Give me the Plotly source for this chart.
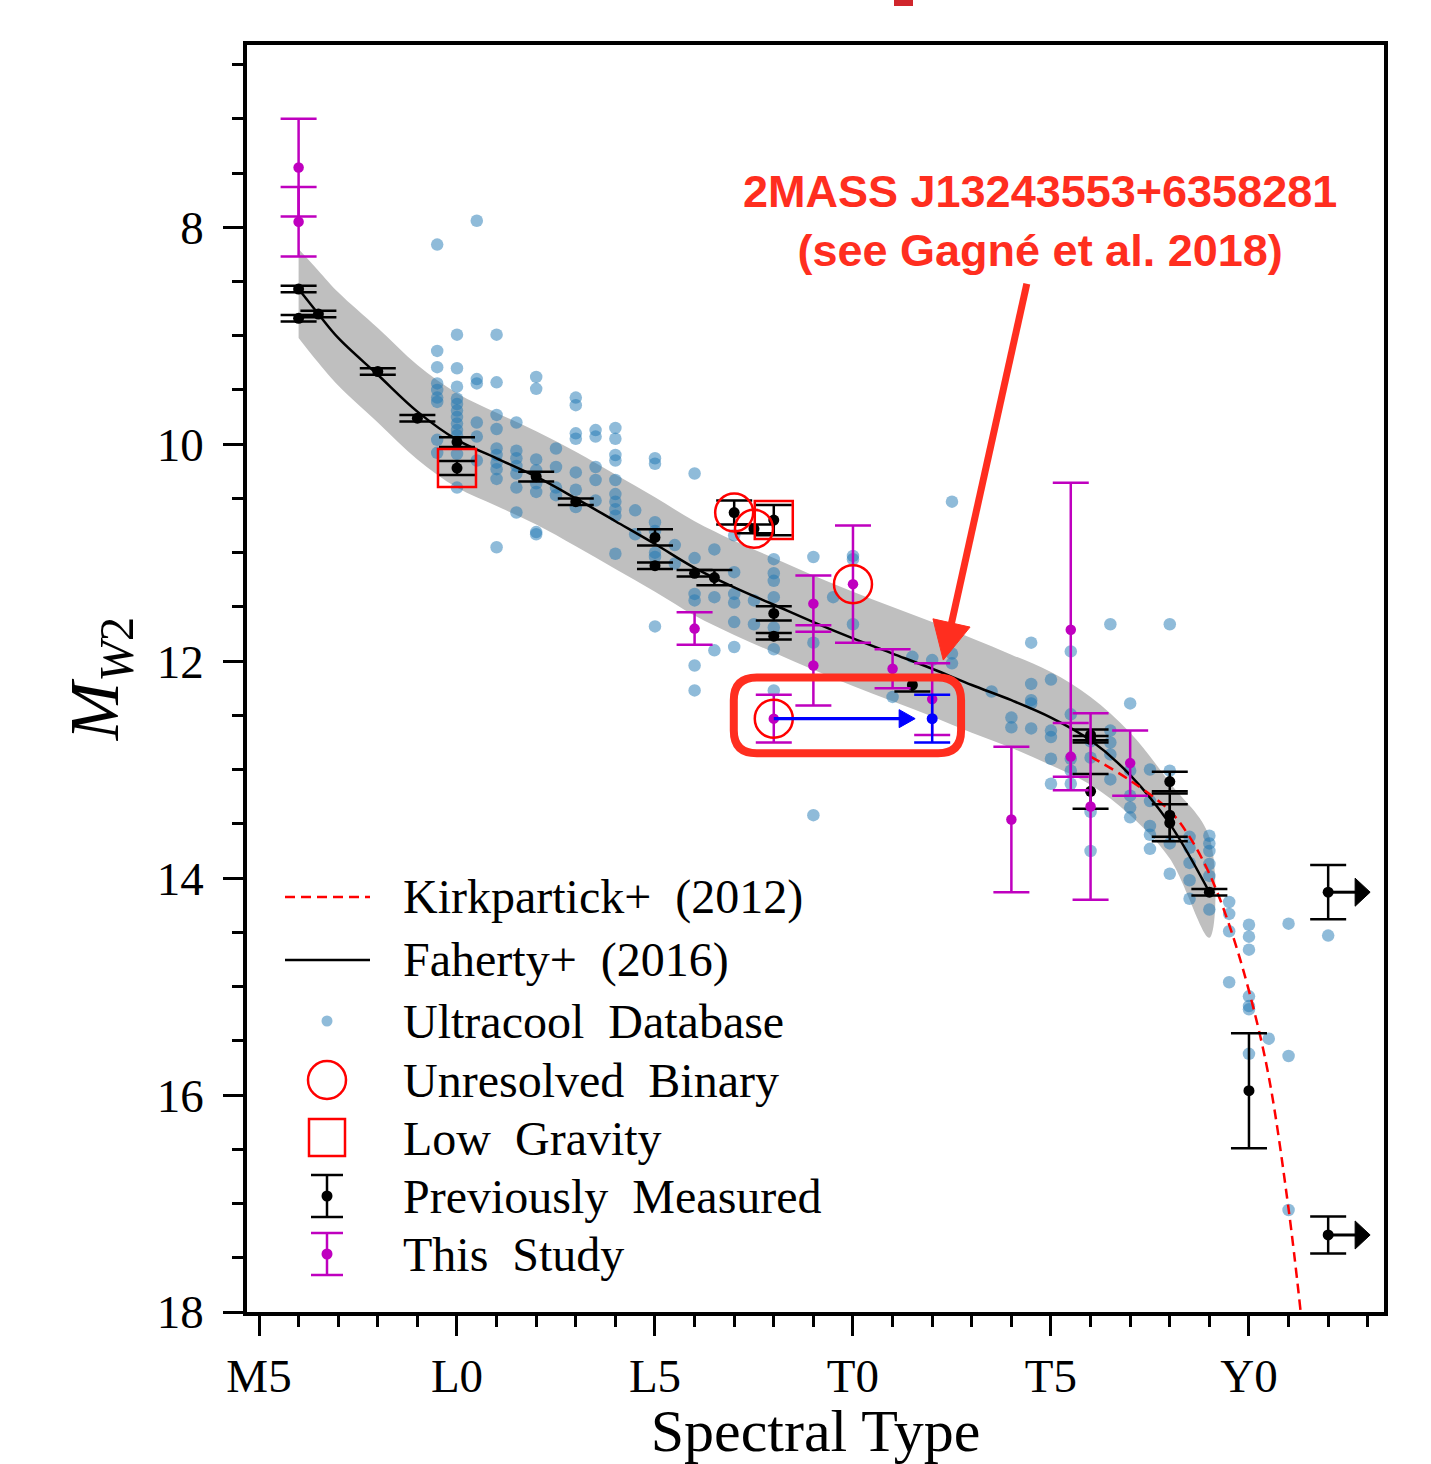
import math
import plotly.graph_objects as go

# ---------------- data ----------------
# Ultracool database (spectral type numeric: M5=5, L0=10, T0=20, Y0=30)
ucd_spt = ([9.5] * 9 + [10] * 12 + [10.5] * 6 + [11] * 10 + [11.5] * 7 + [12] * 8 +
           [12.5] * 4 + [13] * 7 + [13.5] * 5 + [14] * 10 + [14.5] * 2 + [15] * 7 +
           [15.5] * 2 + [16] * 6 + [16.5] * 3 + [17] * 6 + [17.5] * 2 + [18] * 7 +
           [19] * 3 + [19.5] * 1 + [20] * 3 + [21] * 1 + [21.5] * 1 + [22] * 1 +
           [22.5] * 3 + [23.5] * 1 + [24] * 2 + [24.5] * 5 + [25] * 5 + [25.5] * 5 +
           [26] * 4 + [26.5] * 5 + [27] * 5 + [27.5] * 5 + [28] * 4 + [28.5] * 5 +
           [29] * 6 + [29.5] * 4 + [30] * 7 + [30.5] * 1 + [31] * 3 + [32] * 1)
ucd_mw2 = [8.16, 9.14, 9.29, 9.44, 9.50, 9.57, 9.61, 9.96, 10.08,
           8.99, 9.30, 9.47, 9.58, 9.63, 9.69, 9.75, 9.81, 9.87, 9.92, 10.09, 10.40,
           7.94, 9.40, 9.44, 9.80, 9.93, 10.15,
           8.99, 9.43, 9.73, 9.86, 10.04, 10.10, 10.17, 10.23, 10.32, 10.95,
           9.80, 10.06, 10.13, 10.20, 10.27, 10.40, 10.63,
           9.38, 9.49, 10.14, 10.24, 10.36, 10.44, 10.81, 10.83,
           10.04, 10.21, 10.40, 10.47,
           9.57, 9.64, 9.90, 9.95, 10.26, 10.42, 10.58,
           9.87, 9.93, 10.21, 10.33, 10.52,
           9.85, 9.95, 10.10, 10.15, 10.33, 10.46, 10.53, 10.60, 10.66, 11.01,
           10.61, 10.83,
           10.13, 10.18, 10.72, 10.80, 11.00, 11.04, 11.68,
           10.93, 11.10,
           10.27, 11.05, 11.38, 11.44, 12.04, 12.27,
           10.97, 11.41, 11.90,
           10.84, 11.18, 11.38, 11.46, 11.64, 11.87,
           11.44, 11.66,
           11.06, 11.19, 11.26, 11.41, 11.69, 11.89, 12.27,
           11.04, 11.83, 13.42,
           11.41,
           11.03, 11.06, 11.66,
           12.33,
           11.96,
           11.99,
           10.53, 11.93, 12.02,
           12.28,
           12.52, 12.61,
           11.83, 12.21, 12.36, 12.39, 12.62,
           12.17, 12.64, 12.70, 12.90, 13.13,
           11.91, 12.49, 12.90, 13.01, 13.13,
           12.74, 12.89, 13.39, 13.75,
           11.66, 12.64, 12.75, 12.86, 13.09,
           12.39, 13.01, 13.24, 13.35, 13.44,
           13.00, 13.29, 13.52, 13.60, 13.73,
           11.66, 13.01, 13.68, 13.96,
           13.62, 13.72, 13.86, 14.02, 14.19,
           13.61, 13.68, 13.75, 13.87, 13.98, 14.29,
           14.22, 14.33, 14.49, 14.96,
           14.43, 14.54, 14.66, 15.09, 15.18, 15.21, 15.62,
           15.48,
           14.42, 15.64, 17.06,
           14.53]

# Faherty+ (2016) relation and its scatter band
fah_spt = [6, 6.5, 7, 8, 9, 10, 11, 12, 13, 14, 15, 16, 17, 18, 19, 20, 21, 22, 23,
           24, 25, 26, 27, 28, 29]
fah_mw2 = [8.57, 8.80, 9.02, 9.36, 9.70, 9.96, 10.13, 10.30, 10.50, 10.71, 10.92,
           11.14, 11.32, 11.48, 11.64, 11.79, 11.93, 12.07, 12.22, 12.36, 12.52,
           12.73, 13.05, 13.50, 14.13]
band_upper = [8.20, 8.40, 8.60, 8.93, 9.27, 9.53, 9.71, 9.88, 10.07, 10.28, 10.49,
              10.71, 10.89, 11.05, 11.21, 11.36, 11.50, 11.64, 11.79, 11.94, 12.10,
              12.33, 12.66, 13.12, 13.62]
band_lower = [9.02, 9.25, 9.46, 9.80, 10.14, 10.40, 10.57, 10.74, 10.94, 11.15,
              11.36, 11.58, 11.76, 11.92, 12.08, 12.23, 12.37, 12.51, 12.66, 12.80,
              12.96, 13.14, 13.42, 13.82, 14.55]

# Kirkpatrick+ (2012) relation
kirk_spt = [26, 27, 28, 28.5, 29, 29.5, 30, 30.5, 31, 31.3]
kirk_mw2 = [12.88, 13.10, 13.38, 13.62, 13.96, 14.43, 15.04, 15.83, 17.05, 17.98]

# Previously measured
prev_spt = [6, 6, 6.5, 8, 9, 10, 10, 12, 13, 15, 15, 16, 16.5, 17, 17.5, 18, 18, 18,
            21.5, 26, 26, 26, 28, 28, 28, 29, 30]
prev_mw2 = [8.57, 8.84, 8.80, 9.33, 9.76, 9.98, 10.22, 10.30, 10.53, 10.86, 11.12,
            11.19, 11.23, 10.63, 10.78, 10.70, 11.56, 11.77, 12.22, 12.68, 12.72,
            13.20, 13.11, 13.42, 13.49, 14.13, 15.96]
prev_err = [0.03, 0.03, 0.03, 0.03, 0.03, 0.045, 0.065, 0.045, 0.03, 0.075, 0.03,
            0.03, 0.07, 0.11, 0.04, 0.14, 0.065, 0.03, 0.06, 0.05, 0.03, 0.16, 0.09,
            0.20, 0.17, 0.03, 0.53]

# Previously measured, spectral type lower limits
lim_spt = [32, 32]
lim_mw2 = [14.13, 17.29]
lim_err = [0.25, 0.17]

# This study
this_spt = [6, 6, 16, 19, 19, 20, 21, 22, 18, 24, 25.5, 25.5, 26, 27]
this_mw2 = [7.45, 7.95, 11.70, 11.47, 12.04, 11.29, 12.07, 12.35, 12.53, 13.46,
            11.71, 12.88, 13.34, 12.94]
this_err = [0.45, 0.32, 0.15, 0.26, 0.37, 0.54, 0.18, 0.33, 0.22, 0.67, 1.355,
            0.31, 0.86, 0.30]

# Flags
bin_spt = [17, 17.5, 20, 18]
bin_mw2 = [10.63, 10.78, 11.29, 12.53]
lowg_spt = [10, 18]
lowg_mw2 = [10.22, 10.70]

# 2MASS J13243553+6358281 re-typed
hl_spt_old = 18
hl_spt_new = 22
hl_mw2 = 12.53
hl_err = 0.22

tick_vals = [5, 10, 15, 20, 25, 30]
tick_text = ["M5", "L0", "L5", "T0", "T5", "Y0"]

# ---------------- styling ----------------
W, H = 1431, 1464
PX_L, PX_R, PX_T, PX_B = 247, 1384, 45, 1312
SERIF = "Liberation Serif"
SANS = "Liberation Sans"
RED = "#ff0000"
ANN_RED = "#ff2e1f"
MAG = "#bf00bf"
UCD = "rgba(31,119,180,0.5)"

X_LO, X_HI = 4.697, 33.41
Y_BOT, Y_TOP = 18.0, 6.32
SX = (PX_R - PX_L) / (X_HI - X_LO)      # px per spectral subtype
SY = (PX_B - PX_T) / (Y_BOT - Y_TOP)    # px per magnitude (down = fainter)


def pxx(px):
    return (px - PX_L) / (PX_R - PX_L)


def pxy(py):
    return (PX_B - py) / (PX_B - PX_T)


shapes = []
annotations = []


def arrow(xs, ys, xt, yt, color, width, head_len, head_half):
    """Arrow from (xs, ys) to tip (xt, yt) in data units, head sized in px."""
    dx, dy = (xt - xs) * SX, (yt - ys) * SY
    L = math.hypot(dx, dy)
    ux, uy = dx / L, dy / L
    nx, ny = -uy, ux
    bx, by = xt - ux * head_len / SX, yt - uy * head_len / SY
    shapes.append(dict(type="line", xref="x", yref="y", x0=xs, y0=ys,
                       x1=xt - ux * (head_len - 2) / SX, y1=yt - uy * (head_len - 2) / SY,
                       line=dict(color=color, width=width)))
    p1 = (bx + nx * head_half / SX, by + ny * head_half / SY)
    p2 = (bx - nx * head_half / SX, by - ny * head_half / SY)
    shapes.append(dict(type="path", xref="x", yref="y",
                       path=f"M {xt},{yt} L {p1[0]},{p1[1]} L {p2[0]},{p2[1]} Z",
                       fillcolor=color, line=dict(color=color, width=1)))


fig = go.Figure()

# scatter band
fig.add_trace(go.Scatter(
    x=fah_spt + fah_spt[::-1], y=band_upper + band_lower[::-1],
    fill="toself", fillcolor="#bfbfbf", line=dict(width=0, shape="spline"),
    mode="lines", hoverinfo="skip", showlegend=False))

# ultracool database
fig.add_trace(go.Scatter(
    x=ucd_spt, y=ucd_mw2, mode="markers",
    marker=dict(size=12.5, color=UCD, line=dict(width=0)), showlegend=False))

# relations
fig.add_trace(go.Scatter(
    x=fah_spt, y=fah_mw2, mode="lines",
    line=dict(color="black", width=2.5, shape="spline"), showlegend=False))
fig.add_trace(go.Scatter(
    x=kirk_spt, y=kirk_mw2, mode="lines",
    line=dict(color=RED, width=2.5, dash="10px,6px", shape="spline"),
    showlegend=False))

# previously measured
fig.add_trace(go.Scatter(
    x=prev_spt, y=prev_mw2, mode="markers",
    marker=dict(size=11, color="black"),
    error_y=dict(type="data", array=prev_err, color="black", thickness=2.5, width=18),
    showlegend=False))
fig.add_trace(go.Scatter(
    x=lim_spt, y=lim_mw2, mode="markers",
    marker=dict(size=11, color="black"),
    error_y=dict(type="data", array=lim_err, color="black", thickness=2.5, width=18),
    showlegend=False))

# this study
fig.add_trace(go.Scatter(
    x=this_spt, y=this_mw2, mode="markers",
    marker=dict(size=10.5, color=MAG),
    error_y=dict(type="data", array=this_err, color=MAG, thickness=2.5, width=18),
    showlegend=False))

# re-typed object
fig.add_trace(go.Scatter(
    x=[hl_spt_new], y=[hl_mw2], mode="markers",
    marker=dict(size=11, color="#0000ff"),
    error_y=dict(type="data", array=[hl_err], color="#0000ff", thickness=2.5, width=18),
    showlegend=False))

# flags
fig.add_trace(go.Scatter(
    x=bin_spt, y=bin_mw2, mode="markers",
    marker=dict(size=38, symbol="circle-open", color=RED, line=dict(width=2.5, color=RED)),
    showlegend=False))
fig.add_trace(go.Scatter(
    x=lowg_spt, y=lowg_mw2, mode="markers",
    marker=dict(size=38, symbol="square-open", color=RED, line=dict(width=2.5, color=RED)),
    showlegend=False))

# arrows for spectral-type lower limits
LIM_ARROW = 1.06
for s, m in zip(lim_spt, lim_mw2):
    arrow(s, m, s + LIM_ARROW, m, "black", 3, 15, 14)

# blue arrow: old -> new spectral type
arrow(hl_spt_old, hl_mw2, hl_spt_new - 0.43, hl_mw2, "#0000ff", 3.2, 16, 9)

# big red annotation arrow
arrow(24.39, 8.52, 22.28, 11.99, ANN_RED, 7, 38, 19)
annotations.append(dict(x=24.72, y=7.94, xref="x", yref="y",
                        text="<b>2MASS J13243553+6358281</b><br><b>(see Gagné et al. 2018)</b>",
                        showarrow=False, xanchor="center", yanchor="middle",
                        font=dict(family=SANS, size=45, color=ANN_RED)))

# rounded red box
x0, x1, y0, y1 = 16.99, 22.73, 12.15, 12.85
rx, ry = 0.58, 0.21
box = (f"M {x0+rx},{y0} L {x1-rx},{y0} Q {x1},{y0} {x1},{y0+ry} "
       f"L {x1},{y1-ry} Q {x1},{y1} {x1-rx},{y1} L {x0+rx},{y1} "
       f"Q {x0},{y1} {x0},{y1-ry} L {x0},{y0+ry} Q {x0},{y0} {x0+rx},{y0} Z")
shapes.append(dict(type="path", path=box, xref="x", yref="y",
                   line=dict(color=ANN_RED, width=8)))

# small red mark at the top edge
shapes.append(dict(type="rect", xref="paper", yref="paper",
                   x0=pxx(894), x1=pxx(913), y0=pxy(6), y1=pxy(-2),
                   fillcolor="#d0262c", line=dict(width=0)))

# ---------------- manual legend ----------------
leg_rows = [897, 960, 1021, 1080, 1138, 1196, 1254]
leg_text = ["Kirkpartick+ (2012)", "Faherty+ (2016)", "Ultracool Database",
            "Unresolved Binary", "Low Gravity", "Previously Measured", "This Study"]
for ty, t in zip(leg_rows, leg_text):
    annotations.append(dict(x=pxx(401), y=pxy(ty), xref="paper", yref="paper",
                            text=t.replace(" ", "&nbsp;&nbsp;"), showarrow=False,
                            xanchor="left", yanchor="middle",
                            font=dict(family=SERIF, size=48, color="black")))
cx = 327
shapes.append(dict(type="line", xref="paper", yref="paper",
                   x0=pxx(285), x1=pxx(370), y0=pxy(leg_rows[0]), y1=pxy(leg_rows[0]),
                   line=dict(color=RED, width=2.5, dash="10px,6px")))
shapes.append(dict(type="line", xref="paper", yref="paper",
                   x0=pxx(285), x1=pxx(370), y0=pxy(leg_rows[1]), y1=pxy(leg_rows[1]),
                   line=dict(color="black", width=2.5)))
shapes.append(dict(type="circle", xref="paper", yref="paper",
                   x0=pxx(cx - 5.5), x1=pxx(cx + 5.5),
                   y0=pxy(leg_rows[2] + 5.5), y1=pxy(leg_rows[2] - 5.5),
                   fillcolor=UCD, line=dict(width=0)))
shapes.append(dict(type="circle", xref="paper", yref="paper",
                   x0=pxx(cx - 19), x1=pxx(cx + 19),
                   y0=pxy(leg_rows[3] + 19), y1=pxy(leg_rows[3] - 19),
                   line=dict(color=RED, width=2.5)))
shapes.append(dict(type="rect", xref="paper", yref="paper",
                   x0=pxx(cx - 18), x1=pxx(cx + 18),
                   y0=pxy(leg_rows[4] + 18), y1=pxy(leg_rows[4] - 19),
                   line=dict(color=RED, width=2.5)))
for row, col in ((leg_rows[5], "black"), (leg_rows[6], MAG)):
    shapes.append(dict(type="line", xref="paper", yref="paper",
                       x0=pxx(cx), x1=pxx(cx), y0=pxy(row - 21), y1=pxy(row + 21),
                       line=dict(color=col, width=2.5)))
    for dy in (-21, 21):
        shapes.append(dict(type="line", xref="paper", yref="paper",
                           x0=pxx(cx - 16), x1=pxx(cx + 16), y0=pxy(row + dy),
                           y1=pxy(row + dy), line=dict(color=col, width=2.5)))
    shapes.append(dict(type="circle", xref="paper", yref="paper",
                       x0=pxx(cx - 5.5), x1=pxx(cx + 5.5),
                       y0=pxy(row + 5.5), y1=pxy(row - 5.5),
                       fillcolor=col, line=dict(width=0)))

# ---------------- layout ----------------
fig.update_layout(
    template="none",
    width=W, height=H, autosize=False,
    margin=dict(l=PX_L, r=W - PX_R, t=PX_T, b=H - PX_B, pad=0, autoexpand=False),
    paper_bgcolor="white", plot_bgcolor="white",
    showlegend=False,
    annotations=annotations, shapes=shapes,
    xaxis=dict(
        range=[X_LO, X_HI], tickmode="array", tickvals=tick_vals, ticktext=tick_text,
        ticks="outside", ticklen=20, tickwidth=2.5, tickcolor="black",
        showline=True, linecolor="black", linewidth=3.5, mirror=True,
        showgrid=False, zeroline=False, automargin=False,
        tickfont=dict(family=SERIF, size=47, color="black"),
        ticklabelstandoff=0,
        minor=dict(dtick=1, tick0=5, ticks="outside", ticklen=11, tickwidth=2.5,
                   tickcolor="black", showgrid=False),
        title=dict(text="Spectral Type", standoff=2,
                   font=dict(family=SERIF, size=60, color="black")),
    ),
    yaxis=dict(
        range=[Y_BOT, Y_TOP], tickmode="array", tickvals=[8, 10, 12, 14, 16, 18],
        ticks="outside", ticklen=20, tickwidth=2.5, tickcolor="black",
        showline=True, linecolor="black", linewidth=3.5, mirror=True,
        showgrid=False, zeroline=False, automargin=False,
        tickfont=dict(family=SERIF, size=47, color="black"),
        ticklabelstandoff=10,
        minor=dict(dtick=0.5, tick0=6, ticks="outside", ticklen=11, tickwidth=2.5,
                   tickcolor="black", showgrid=False),
        title=dict(text="<i>M</i><sub><i>W</i>2</sub>", standoff=16,
                   font=dict(family=SERIF, size=70, color="black")),
    ),
)

fig.write_html("out.html",
               config={"displayModeBar": False},
               post_script="document.body.style.margin='0';"
                           "document.body.style.overflow='hidden';")
